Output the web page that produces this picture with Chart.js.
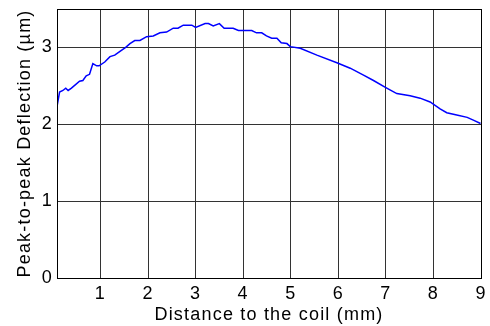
<!DOCTYPE html>
<html>
<head>
<meta charset="utf-8">
<title>Peak-to-peak deflection</title>
<script src="https://cdn.jsdelivr.net/npm/chart.js@4.4.1/dist/chart.umd.min.js"></script>
<style>
    html, body { margin: 0; padding: 0; background: #fff; }
    #wrap { width: 490px; height: 326px; }
</style>
</head>
<body>
<div id="wrap"><canvas id="deflectionChart" width="490" height="326"></canvas></div>
<script>
// Measured deflection along the distance from the coil
const distance = [
    0.086, 0.14, 0.21, 0.27, 0.32, 0.39, 0.56, 0.63, 0.70, 0.77,
    0.84, 0.92, 0.97, 1.09, 1.20, 1.30, 1.41, 1.53, 1.62, 1.72,
    1.83, 1.97, 2.11, 2.25, 2.39, 2.53, 2.63, 2.74, 2.92, 3.00,
    3.20, 3.27, 3.37, 3.50, 3.60, 3.79, 3.90, 4.18, 4.28, 4.39,
    4.49, 4.60, 4.71, 4.80, 4.92, 4.99, 5.20, 5.55, 5.97, 6.25,
    6.53, 6.74, 6.99, 7.23, 7.51, 7.72, 7.93, 8.14, 8.28, 8.49,
    8.71, 8.85, 8.99
];
const deflection = [
    2.23, 2.42, 2.44, 2.47, 2.44, 2.47, 2.56, 2.57, 2.63, 2.65,
    2.79, 2.76, 2.76, 2.81, 2.88, 2.90, 2.95, 3.00, 3.05, 3.09,
    3.09, 3.14, 3.15, 3.19, 3.20, 3.25, 3.25, 3.29, 3.29, 3.26,
    3.31, 3.31, 3.28, 3.31, 3.25, 3.25, 3.22, 3.22, 3.19, 3.19,
    3.15, 3.12, 3.12, 3.06, 3.05, 3.01, 2.99, 2.90, 2.80, 2.73,
    2.64, 2.57, 2.48, 2.40, 2.37, 2.34, 2.29, 2.20, 2.15, 2.12,
    2.09, 2.05, 2.01
];
const xTicks = [1, 2, 3, 4, 5, 6, 7, 8, 9];
const yTicks = [0, 1, 2, 3];

const FONT = { family: '"Liberation Sans", Arial, sans-serif', size: 18 };

// wider text spacing for all labels
const spacedText = {
    id: 'spacedText',
    beforeDraw(chart) {
        chart.ctx.letterSpacing = '1.2px';
    }
};

// black box around the plot area
const frameBox = {
    id: 'frameBox',
    afterDraw(chart) {
        const a = chart.chartArea;
        const ctx = chart.ctx;
        ctx.save();
        ctx.strokeStyle = '#000';
        ctx.lineWidth = 1;
        ctx.strokeRect(Math.round(a.left) + 0.5, Math.round(a.top) + 0.5,
            Math.round(a.right - a.left), Math.round(a.bottom - a.top));
        ctx.restore();
    }
};

const ctx = document.getElementById('deflectionChart').getContext('2d');
new Chart(ctx, {
    type: 'line',
    data: {
        datasets: [{
            data: distance.map((d, i) => ({ x: d, y: deflection[i] })),
            borderColor: '#0000ff',
            borderWidth: 1.5,
            pointRadius: 0,
            fill: false,
            tension: 0
        }]
    },
    options: {
        responsive: false,
        animation: false,
        layout: { padding: { top: 9, right: 9, left: 0, bottom: 0 } },
        plugins: {
            legend: { display: false },
            tooltip: { enabled: false }
        },
        scales: {
            x: {
                type: 'linear',
                min: 0.086,
                max: 9,
                afterBuildTicks: scale => { scale.ticks = xTicks.map(v => ({ value: v })); },
                afterFit: scale => {
                    scale.height = 48;
                    scale.paddingLeft = 0;
                    scale.paddingRight = 0;
                },
                grid: { color: '#333', lineWidth: 1, drawTicks: false },
                border: { color: '#000' },
                ticks: { color: '#000', font: FONT, padding: 5, maxRotation: 0 },
                title: {
                    display: true,
                    text: 'Distance to the coil (mm)',
                    color: '#000',
                    font: FONT,
                    padding: { top: 0, bottom: 0 }
                }
            },
            y: {
                min: 0,
                max: 3.5,
                afterBuildTicks: scale => { scale.ticks = yTicks.map(v => ({ value: v })); },
                afterFit: scale => {
                    scale.width = 57;
                    scale.paddingTop = 0;
                    scale.paddingBottom = 0;
                },
                grid: { color: '#333', lineWidth: 1, drawTicks: false },
                border: { color: '#000' },
                ticks: { color: '#000', font: FONT, padding: 4 },
                title: {
                    display: true,
                    text: 'Peak-to-peak Deflection (\u00b5m)',
                    color: '#000',
                    font: FONT,
                    padding: { top: 14, bottom: 0 }
                }
            }
        }
    },
    plugins: [spacedText, frameBox]
});
</script>
</body>
</html>
